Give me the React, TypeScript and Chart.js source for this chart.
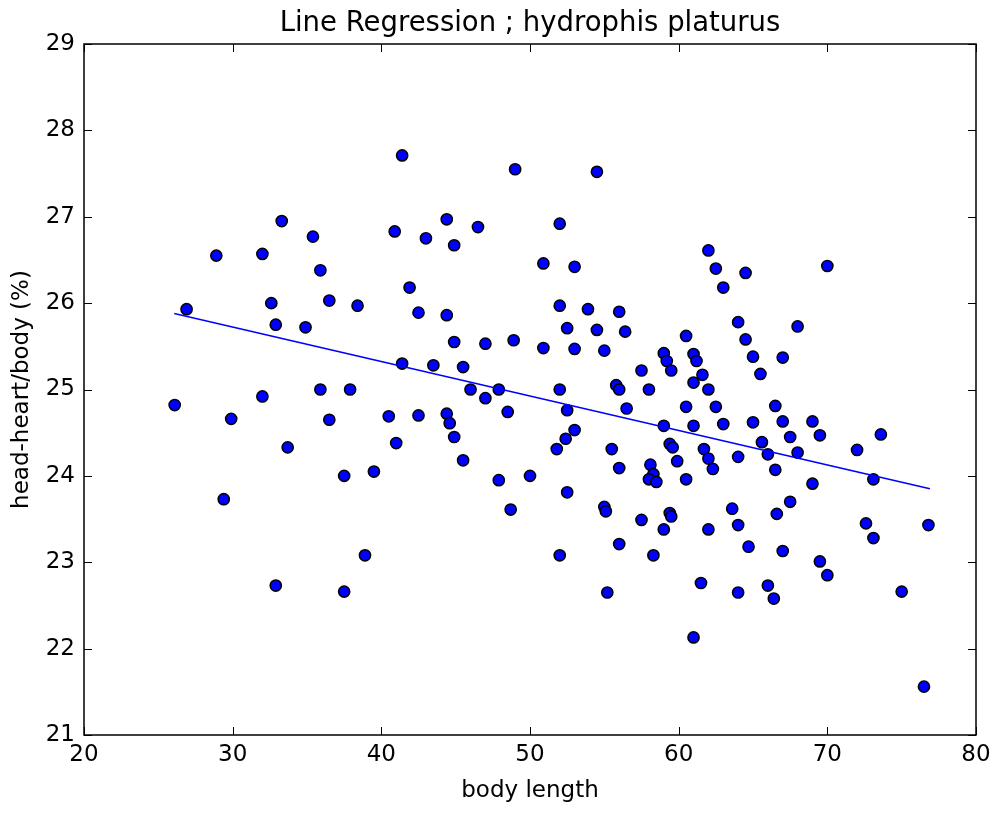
import React, { useEffect, useRef } from "react";
import { Chart, registerables } from "chart.js";

Chart.register(...registerables);

// Body length (x) of each specimen
const bodyLength: number[] = [
  26.1, 26.9, 28.9, 29.4, 29.9, 32.0, 32.0, 32.6, 32.9, 32.9,
  33.3, 33.7, 34.9, 35.4, 35.9, 35.9, 36.5, 36.5, 37.5, 37.5,
  37.9, 38.4, 38.9, 39.5, 40.5, 40.9, 41.0, 41.4, 41.4, 41.9,
  42.5, 42.5, 43.0, 43.5, 44.4, 44.4, 44.4, 44.6, 44.9, 44.9,
  44.9, 45.5, 45.5, 46.0, 46.5, 47.0, 47.0, 47.9, 47.9, 48.5,
  48.7, 48.9, 49.0, 50.0, 50.9, 50.9, 51.8, 52.0, 52.0, 52.0,
  52.0, 52.4, 52.5, 52.5, 52.5, 53.0, 53.0, 53.0, 53.9, 54.5,
  54.5, 55.0, 55.0, 55.1, 55.2, 55.5, 55.8, 56.0, 56.0, 56.0,
  56.0, 56.4, 56.5, 57.5, 57.5, 58.0, 58.1, 58.3, 58.0, 58.5,
  58.3, 59.0, 59.2, 59.0, 59.0, 59.5, 59.4, 59.6, 59.4, 59.5,
  59.9, 60.5, 60.5, 60.5, 61.0, 61.2, 61.0, 61.0, 61.0, 61.6,
  61.5, 61.7, 62.0, 62.0, 62.0, 62.0, 62.3, 62.5, 62.5, 63.0,
  63.0, 63.6, 64.0, 64.0, 64.0, 64.0, 64.5, 64.5, 64.7, 65.0,
  65.0, 65.5, 65.6, 66.0, 66.0, 66.4, 66.5, 66.5, 66.6, 67.0,
  67.0, 67.0, 67.5, 67.5, 68.0, 68.0, 69.0, 69.0, 69.5, 69.5,
  70.0, 70.0, 72.0, 72.6, 73.1, 73.1, 73.6, 75.0, 76.5, 76.8,
];

// head-heart / body ratio (%) of each specimen
const headHeartRatio: number[] = [
  24.82, 25.93, 26.55, 23.73, 24.66, 26.57, 24.92, 26.00, 25.75, 22.73,
  26.95, 24.33, 25.72, 26.77, 26.38, 25.00, 26.03, 24.65, 24.00, 22.66,
  25.00, 25.97, 23.08, 24.05, 24.69, 26.83, 24.38, 27.71, 25.30, 26.18,
  25.89, 24.70, 26.75, 25.28, 26.97, 25.86, 24.72, 24.61, 25.55, 26.67,
  24.45, 25.26, 24.18, 25.00, 26.88, 25.53, 24.90, 25.00, 23.95, 24.74,
  23.61, 25.57, 27.55, 24.00, 26.46, 25.48, 24.31, 26.92, 25.97, 25.00,
  23.08, 24.43, 24.76, 25.71, 23.81, 26.42, 25.47, 24.53, 25.93, 27.52,
  25.69, 25.45, 23.64, 23.59, 22.65, 24.31, 25.05, 25.90, 25.00, 24.09,
  23.21, 25.67, 24.78, 25.22, 23.49, 25.00, 24.13, 24.02, 23.96, 23.93,
  23.08, 25.42, 25.33, 24.58, 23.38, 25.22, 24.37, 24.33, 23.57, 23.53,
  24.17, 25.62, 24.80, 23.96, 25.41, 25.33, 25.08, 24.58, 22.13, 25.17,
  22.76, 24.31, 26.61, 25.00, 24.20, 23.38, 24.08, 26.40, 24.80, 26.18,
  24.60, 23.62, 25.78, 24.22, 23.43, 22.65, 26.35, 25.58, 23.18, 25.38,
  24.62, 25.18, 24.39, 24.25, 22.73, 22.58, 24.81, 24.07, 23.56, 25.37,
  24.63, 23.13, 24.45, 23.70, 25.73, 24.27, 24.63, 23.91, 24.47, 23.01,
  26.43, 22.85, 24.30, 23.45, 23.96, 23.28, 24.48, 22.66, 21.56, 23.43,
];

// Regression line end points
const fitX: number[] = [26.07, 76.9];
const fitY: number[] = [25.88, 23.85];

const xTicks: number[] = [20, 30, 40, 50, 60, 70, 80];
const yTicks: number[] = [21, 22, 23, 24, 25, 26, 27, 28, 29];

const FONT = "'DejaVu Sans', 'Bitstream Vera Sans', sans-serif";
const LABEL_SIZE = 23;
const TITLE_SIZE = 27.5;

const framePlugin = {
  id: "mplFrame",
  afterDraw(chart: any) {
    const { ctx, chartArea } = chart;
    const { left, right, top, bottom } = chartArea;
    const xs = chart.scales.x;
    const ys = chart.scales.y;
    const L = 8;
    ctx.save();
    ctx.strokeStyle = "#000";
    ctx.lineWidth = 1;
    ctx.beginPath();
    xs.ticks.forEach((t: any) => {
      const p = Math.round(xs.getPixelForValue(t.value)) + 0.5;
      ctx.moveTo(p, bottom);
      ctx.lineTo(p, bottom - L);
      ctx.moveTo(p, top);
      ctx.lineTo(p, top + L);
    });
    ys.ticks.forEach((t: any) => {
      const p = Math.round(ys.getPixelForValue(t.value)) + 0.5;
      ctx.moveTo(left, p);
      ctx.lineTo(left + L, p);
      ctx.moveTo(right, p);
      ctx.lineTo(right - L, p);
    });
    ctx.stroke();
    ctx.lineWidth = 1.5;
    ctx.strokeRect(left, top, right - left, bottom - top);
    ctx.restore();
  },
};

export default function App() {
  const ref = useRef<HTMLCanvasElement | null>(null);

  useEffect(() => {
    if (!ref.current) return;
    const points = bodyLength.map((x, i) => ({ x, y: headHeartRatio[i] }));
    const fit = fitX.map((x, i) => ({ x, y: fitY[i] }));
    const chart = new Chart(ref.current, {
      type: "scatter",
      data: {
        datasets: [
          {
            type: "line",
            data: fit,
            borderColor: "#0000ff",
            borderWidth: 1.6,
            pointRadius: 0,
            showLine: true,
            fill: false,
          } as any,
          {
            data: points,
            backgroundColor: "#0000ff",
            borderColor: "#000000",
            borderWidth: 1.5,
            pointRadius: 5.6,
            pointHoverRadius: 5.6,
          },
        ],
      },
      options: {
        responsive: false,
        animation: false,
        devicePixelRatio: 1,
        layout: { padding: { top: 0, right: 21, bottom: 0, left: 0 } },
        plugins: {
          legend: { display: false },
          tooltip: { enabled: false },
          title: {
            display: true,
            fullSize: false,
            text: "Line Regression ; hydrophis platurus",
            color: "#000",
            font: { family: FONT, size: TITLE_SIZE, weight: "normal", lineHeight: 1.2 },
            padding: { top: 7, bottom: 4 },
          },
        },
        scales: {
          x: {
            type: "linear",
            min: 20,
            max: 80,
            afterFit: (s: any) => {
              s.height = 78;
            },
            afterBuildTicks: (s: any) => {
              s.ticks = xTicks.map((v) => ({ value: v }));
            },
            grid: { display: false, drawTicks: false },
            border: { display: false },
            ticks: {
              color: "#000",
              padding: 6,
              font: { family: FONT, size: LABEL_SIZE },
              maxRotation: 0,
              autoSkip: false,
            },
            title: {
              display: true,
              text: "body length",
              color: "#000",
              font: { family: FONT, size: LABEL_SIZE },
              padding: { top: 0, bottom: 8.5 },
            },
          },
          y: {
            type: "linear",
            min: 21,
            max: 29,
            afterFit: (s: any) => {
              s.width = 84;
            },
            afterBuildTicks: (s: any) => {
              s.ticks = yTicks.map((v) => ({ value: v }));
            },
            grid: { display: false, drawTicks: false },
            border: { display: false },
            ticks: {
              color: "#000",
              padding: 9,
              font: { family: FONT, size: LABEL_SIZE },
              autoSkip: false,
            },
            title: {
              display: true,
              text: "head-heart/body (%)",
              color: "#000",
              font: { family: FONT, size: LABEL_SIZE },
              padding: { top: 8.5, bottom: 0 },
            },
          },
        },
      },
      plugins: [framePlugin],
    });
    return () => chart.destroy();
  }, []);

  return (
    <div style={{ position: "absolute", left: 0, top: 0, width: 997, height: 813, background: "#fff" }}>
      <canvas ref={ref} width={997} height={813} />
    </div>
  );
}
